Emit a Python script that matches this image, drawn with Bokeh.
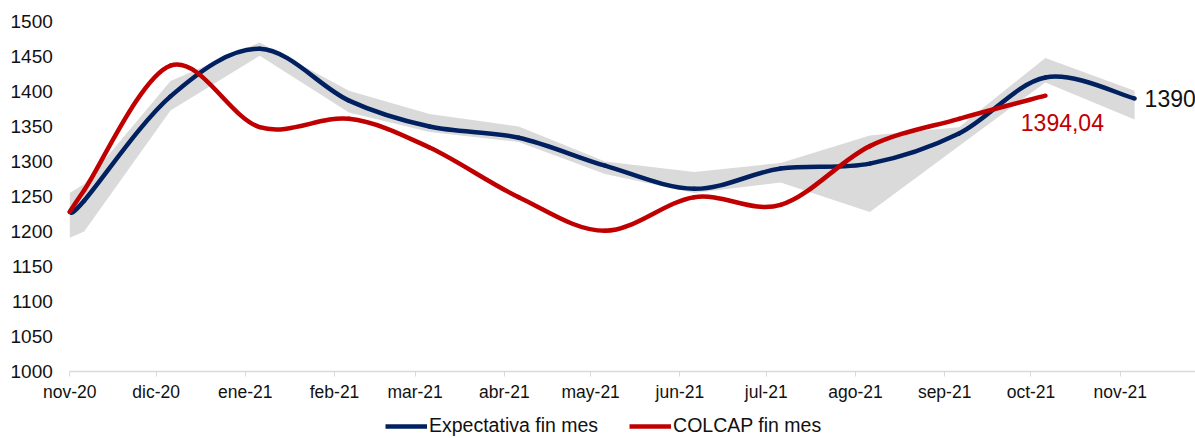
import pandas as pd
from bokeh.plotting import figure
from bokeh.models import Range1d, FixedTicker, Label, Legend, LegendItem
from bokeh.embed import file_html
from bokeh.resources import INLINE

# ---------------- data ----------------
dates = ["2020-11-01", "2020-11-06", "2020-12-06", "2021-01-06", "2021-02-06",
         "2021-03-06", "2021-04-06", "2021-05-06", "2021-06-06", "2021-07-06",
         "2021-08-06", "2021-09-06", "2021-10-06", "2021-11-06"]
expectativa = [1228, 1244, 1393, 1461, 1387, 1350, 1334, 1294, 1261, 1290,
               1297, 1340, 1420, 1390]
colcap = [1228, 1259, 1437, 1349, 1361, 1320, 1249, 1201, 1249, 1238,
          1322, 1361, 1394.04]
band_upper = [1255, 1268, 1415, 1470, 1401, 1368, 1350, 1300, 1285, 1298,
              1337, 1349, 1448, 1401]
band_lower = [1191, 1200, 1373, 1451, 1370, 1342, 1328, 1282, 1255, 1270,
              1228, 1322, 1413, 1360]
tick_dates = ["2020-11-01", "2020-12-01", "2021-01-01", "2021-02-01", "2021-03-01",
              "2021-04-01", "2021-05-01", "2021-06-01", "2021-07-01", "2021-08-01",
              "2021-09-01", "2021-10-01", "2021-11-01"]
tick_labels = ["nov-20", "dic-20", "ene-21", "feb-21", "mar-21", "abr-21", "may-21",
               "jun-21", "jul-21", "ago-21", "sep-21", "oct-21", "nov-21"]
y_ticks = [1000, 1050, 1100, 1150, 1200, 1250, 1300, 1350, 1400, 1450, 1500]

BLUE = "#002060"
RED = "#C00000"
GRAY = "#DADADA"
FONT = "Liberation Sans"
DAY = 86400000.0
PX_PER_DAY = 2.8778
PX_PER_UNIT = 0.7


def ms(d):
    return float((pd.Timestamp(d) - pd.Timestamp("1970-01-01")) // pd.Timedelta(milliseconds=1))


def smooth_segments(xs, ys):
    """Bezier control points for a Catmull-Rom style smoothed line (like Excel)."""
    n = len(xs)
    out = dict(x0=[], y0=[], x1=[], y1=[], cx0=[], cy0=[], cx1=[], cy1=[])
    for i in range(n - 1):
        a = max(i - 1, 0)
        d = min(i + 2, n - 1)
        out["x0"].append(xs[i]); out["y0"].append(ys[i])
        out["x1"].append(xs[i + 1]); out["y1"].append(ys[i + 1])
        out["cx0"].append(xs[i] + (xs[i + 1] - xs[a]) / 6.0)
        out["cy0"].append(ys[i] + (ys[i + 1] - ys[a]) / 6.0)
        out["cx1"].append(xs[i + 1] - (xs[d] - xs[i]) / 6.0)
        out["cy1"].append(ys[i + 1] - (ys[d] - ys[i]) / 6.0)
    return out


x_ms = [ms(d) for d in dates]
axis_start = ms(tick_dates[0])
# the frame covers the whole canvas; the axes are pinned inside it
x_start = axis_start - 69.3 / PX_PER_DAY * DAY
x_end = axis_start + (1195 - 69.3) / PX_PER_DAY * DAY
y_bottom = 1000 - 67 / PX_PER_UNIT
y_top = 1500 + 21 / PX_PER_UNIT

p = figure(width=1195, height=438, output_backend="svg", toolbar_location=None,
           x_range=Range1d(x_start, x_end), y_range=Range1d(y_bottom, y_top),
           min_border_left=0, min_border_right=0, min_border_top=0,
           min_border_bottom=0)
p.outline_line_color = None
p.xgrid.grid_line_color = None
p.ygrid.grid_line_color = None
p.background_fill_color = "white"
p.border_fill_color = "white"

# band
p.varea(x=x_ms, y1=band_lower, y2=band_upper, fill_color=GRAY, fill_alpha=1.0)

# smoothed lines
sb = smooth_segments(x_ms, expectativa)
p.bezier(line_color=BLUE, line_width=4.5, line_cap="round", **sb)
sr = smooth_segments(x_ms[:len(colcap)], colcap)
p.bezier(line_color=RED, line_width=4.5, line_cap="round", **sr)

# legend proxies (kept below the visible range, only their style is used)
proxy_x = [x_ms[0], x_ms[1]]
proxy_y = [y_bottom - 100, y_bottom - 100]
lb = p.line(x=proxy_x, y=proxy_y, line_color=BLUE, line_width=4.5)
lr = p.line(x=proxy_x, y=proxy_y, line_color=RED, line_width=4.5)
legend = Legend(items=[LegendItem(label="Expectativa fin mes", renderers=[lb]),
                       LegendItem(label="COLCAP fin mes", renderers=[lr])],
                orientation="horizontal", location=(385, 1),
                glyph_width=42, glyph_height=12, label_height=12,
                label_standoff=2, spacing=31, padding=0, margin=0,
                border_line_alpha=0, background_fill_alpha=0,
                label_text_font=FONT, label_text_font_size="19.5px",
                label_text_color="#111111")
p.add_layout(legend)

# end labels
p.add_layout(Label(x=x_ms[-1], y=expectativa[-1], text=f"{expectativa[-1]:.0f}",
                   x_offset=10, text_baseline="middle", text_align="left",
                   text_font=FONT, text_font_size="23px", text_color="#111111"))
p.add_layout(Label(x=x_ms[len(colcap) - 1], y=colcap[-1],
                   text=f"{colcap[-1]:.2f}".replace(".", ","),
                   x_offset=17, y_offset=-27, text_baseline="middle", text_align="center",
                   text_font=FONT, text_font_size="23px", text_color=RED))

# axes (pinned inside the frame)
p.xaxis.fixed_location = 1000
p.xaxis.bounds = (axis_start, x_end)
p.xaxis.ticker = FixedTicker(ticks=[ms(d) for d in tick_dates])
p.xaxis.major_label_overrides = {ms(d): lab for d, lab in zip(tick_dates, tick_labels)}
p.xaxis.axis_line_color = "#D9D9D9"
p.xaxis.axis_line_width = 1.5
p.xaxis.major_tick_line_color = "#D9D9D9"
p.xaxis.major_tick_out = 5
p.xaxis.major_tick_in = 0
p.xaxis.minor_tick_line_color = None
p.xaxis.major_label_standoff = 5
p.xaxis.major_label_text_font = FONT
p.xaxis.major_label_text_font_size = "17.5px"
p.xaxis.major_label_text_color = "#111111"

p.yaxis.fixed_location = axis_start
p.yaxis.bounds = (1000, 1500)
p.yaxis.ticker = FixedTicker(ticks=y_ticks)
p.yaxis.axis_line_color = None
p.yaxis.major_tick_line_color = None
p.yaxis.minor_tick_line_color = None
p.yaxis.major_tick_out = 0
p.yaxis.major_tick_in = 0
p.yaxis.major_label_standoff = 17
p.yaxis.major_label_text_font = FONT
p.yaxis.major_label_text_font_size = "19px"
p.yaxis.major_label_text_color = "#111111"

open("out.html", "w").write(file_html(p, INLINE))
